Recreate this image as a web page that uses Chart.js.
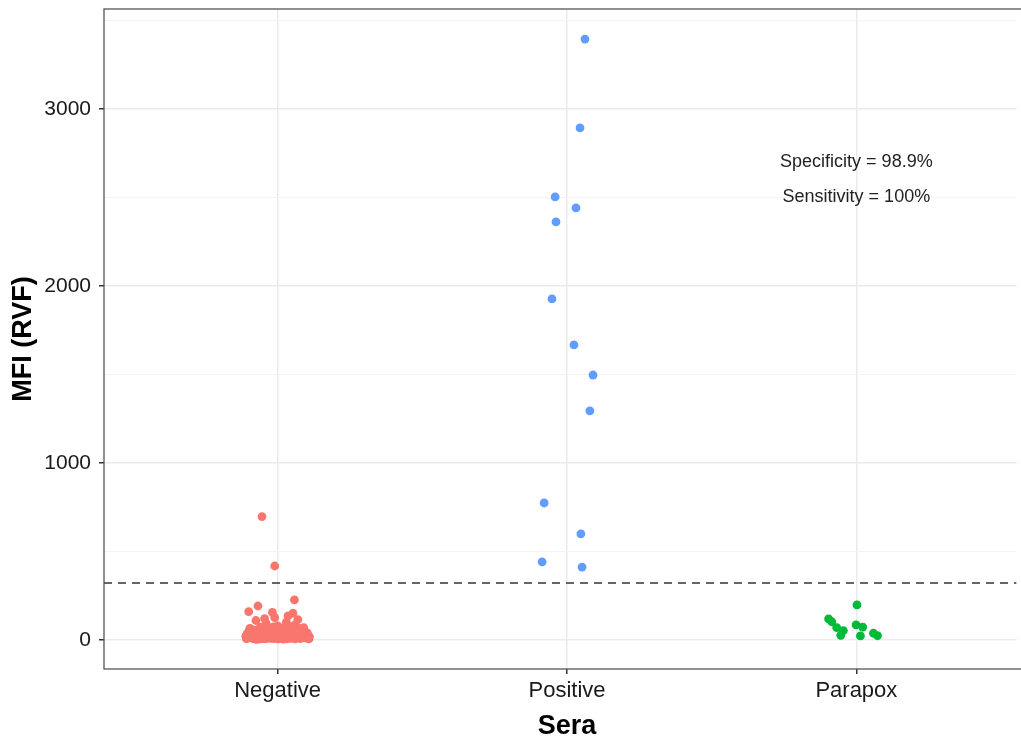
<!DOCTYPE html>
<html>
<head>
<meta charset="utf-8">
<script src="https://cdn.jsdelivr.net/npm/chart.js@4.4.1/dist/chart.umd.min.js"></script>
<style>
html,body{margin:0;padding:0;background:#fff;}
#wrap{width:1021px;height:743px;position:relative;}
</style>
</head>
<body>
<div id="wrap"><canvas id="c" width="1021" height="743"></canvas></div>
<script>
const categories = ['Negative', 'Positive', 'Parapox'];
const yTickValues = [0, 500, 1000, 1500, 2000, 2500, 3000, 3500];
const cutoff = 322;
const annotations = ['Specificity = 98.9%', 'Sensitivity = 100%'];
const annotationY = [2700, 2500];
const xTitle = 'Sera';

const negX = [0.946,0.990,1.058,0.932,0.900,0.982,1.036,1.053,0.925,0.990,1.045,1.060,0.960,0.940,1.000,1.015,0.905,0.985,1.030,0.955,1.070,1.075,1.090,
0.890,0.895,0.900,0.905,0.910,0.915,0.920,0.925,0.930,0.935,0.940,0.945,0.950,0.955,0.960,0.965,0.970,0.975,0.980,0.985,0.990,0.995,1.000,1.005,1.010,1.015,1.020,1.025,1.030,1.035,1.040,1.045,1.050,1.055,1.060,1.065,1.070,1.075,1.080,1.085,1.090,1.095,1.100,1.105,1.110,
0.892,0.898,0.903,0.912,0.918,0.923,0.928,0.937,0.943,0.948,0.953,0.958,0.963,0.968,0.973,0.978,0.983,0.988,0.993,0.998,1.003,1.008,1.013,1.018,1.023,1.028,1.033,1.038,1.043,1.048,1.053,1.058,1.063,1.068,1.073,1.078,1.083,1.088,1.093,1.098,1.103,1.108,
0.895,0.910,0.920,0.935,0.950,0.960,0.975,0.990,1.000,1.010,1.025,1.040,1.050,1.065,1.075,1.090,1.100,0.930,0.970,1.020,1.060,1.080];
const negY = [697,418,226,192,160,156,136,151,110,126,75,85,95,72,80,68,66,74,100,120,115,65,70,
22,38,12,48,30,8,55,20,42,15,33,6,50,25,38,10,60,28,18,45,8,35,22,52,14,40,5,30,58,18,44,9,35,24,50,12,40,28,16,45,20,32,10,26,18,
8,28,62,18,40,5,32,24,52,14,36,7,44,20,30,9,56,26,15,42,6,33,24,48,12,38,7,28,60,18,42,10,30,22,55,8,34,14,46,24,38,6,
16,45,26,58,10,28,40,30,48,36,16,24,14,46,18,34,42,4,12,62,6,26];

const posX = [2.062,2.045,1.959,2.031,1.962,1.948,2.024,2.090,2.079,1.921,2.048,1.914,2.052];
const posY = [3395,2893,2503,2441,2362,1927,1667,1497,1294,774,599,441,412];

const parX = [2.904,2.915,2.932,2.955,2.946,3.002,2.999,3.022,3.014,3.059,3.073];
const parY = [119,103,70,53,26,198,85,73,23,38,24];

const FONT = "'Liberation Sans', Arial, sans-serif";
const toPts = (xs, ys) => xs.map((x, i) => ({x: x, y: ys[i]}));

const xMin = 0.4, xMax = 3.5537;

const overlayPlugin = {
  id: 'overlay',
  afterDatasetsDraw(chart) {
    const {ctx, chartArea, scales} = chart;
    ctx.save();
    ctx.font = '18px ' + FONT;
    ctx.fillStyle = '#222';
    ctx.textAlign = 'center';
    ctx.textBaseline = 'middle';
    annotations.forEach((t, i) => {
      ctx.fillText(t, scales.x.getPixelForValue(3), scales.y.getPixelForValue(annotationY[i]));
    });
    ctx.strokeStyle = '#555';
    ctx.lineWidth = 1.3;
    ctx.strokeRect(chartArea.left, chartArea.top, chartArea.right - chartArea.left + 20, chartArea.bottom - chartArea.top);
    ctx.restore();
  },
  afterDraw(chart) {
    const {ctx, scales} = chart;
    ctx.save();
    ctx.font = 'bold 27px ' + FONT;
    ctx.fillStyle = '#000';
    ctx.textAlign = 'center';
    ctx.textBaseline = 'middle';
    ctx.fillText(xTitle, scales.x.getPixelForValue(2), scales.x.bottom - 16);
    ctx.restore();
  }
};

new Chart(document.getElementById('c'), {
  type: 'scatter',
  data: {
    datasets: [
      {data: toPts(negX, negY), backgroundColor: '#F8766D', borderColor: '#F8766D', pointRadius: 4.4, borderWidth: 0},
      {data: toPts(posX, posY), backgroundColor: '#619CFF', borderColor: '#619CFF', pointRadius: 4.4, borderWidth: 0},
      {data: toPts(parX, parY), backgroundColor: '#00BA38', borderColor: '#00BA38', pointRadius: 4.4, borderWidth: 0},
      {type: 'line', data: [{x: xMin, y: cutoff}, {x: xMax, y: cutoff}], borderColor: '#333', borderWidth: 1.5, borderDash: [8, 6], pointRadius: 0, fill: false}
    ]
  },
  options: {
    responsive: false,
    animation: false,
    devicePixelRatio: 1,
    layout: {padding: {top: 9, right: 0, left: 0, bottom: 0}},
    plugins: {legend: {display: false}, tooltip: {enabled: false}},
    scales: {
      x: {
        type: 'linear', min: xMin, max: xMax,
        afterBuildTicks: s => { s.ticks = categories.map((c, i) => ({value: i + 1})); },
        afterFit: s => { s.height = 74; s.paddingLeft = 0; s.paddingRight = 0; },
        ticks: {callback: v => categories[v - 1] || '', color: '#1a1a1a', font: {family: FONT, size: 22}, padding: 4, maxRotation: 0, autoSkip: false},
        grid: {color: '#ebebeb', lineWidth: 1.5, tickLength: 5, tickColor: '#333'},
        border: {display: false},
        title: {display: false}
      },
      y: {
        type: 'linear', min: -164, max: 3565,
        afterBuildTicks: s => { s.ticks = yTickValues.map(v => ({value: v})); },
        afterFit: s => { s.width = 104; s.paddingTop = 0; s.paddingBottom = 0; },
        ticks: {callback: v => (v % 1000 === 0 ? String(v) : ''), color: '#1a1a1a', font: {family: FONT, size: 21}, padding: 8},
        grid: {
          color: c => (c.tick && c.tick.value % 1000 === 0) ? '#ebebeb' : '#f4f4f4',
          lineWidth: c => (c.tick && c.tick.value % 1000 === 0) ? 1.5 : 1,
          tickLength: 5,
          tickColor: c => (c.tick && c.tick.value % 1000 === 0) ? '#333' : 'rgba(0,0,0,0)'
        },
        border: {display: false},
        title: {display: true, text: 'MFI (RVF)', color: '#000', font: {family: FONT, size: 27, weight: 'bold'}, padding: {top: 7, bottom: 0}}
      }
    }
  },
  plugins: [overlayPlugin]
});
</script>
</body>
</html>
